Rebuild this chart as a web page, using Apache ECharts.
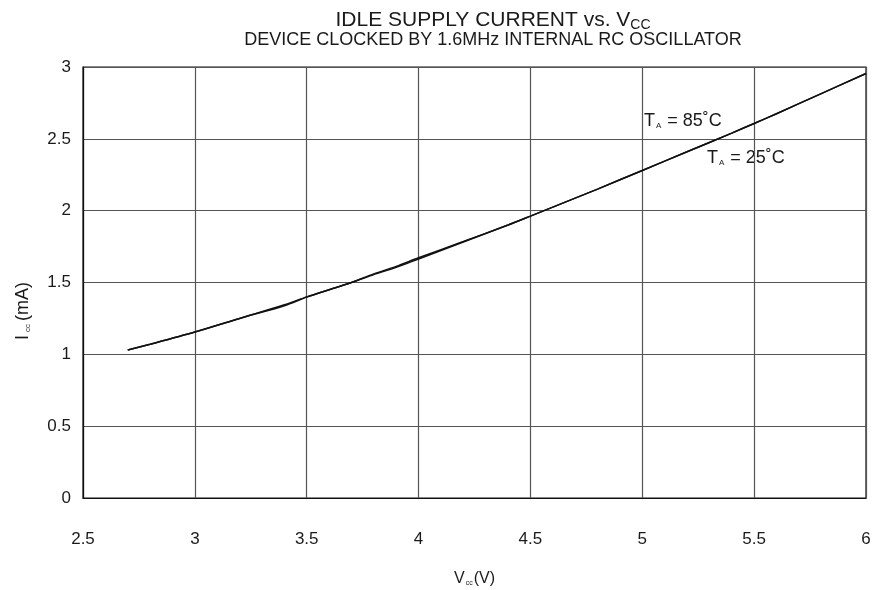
<!DOCTYPE html>
<html>
<head>
<meta charset="utf-8">
<script src="https://cdn.jsdelivr.net/npm/echarts@6/dist/echarts.min.js"></script>
<style>
  html, body { margin: 0; padding: 0; background: #fff; }
  #chart { width: 883px; height: 590px; }
</style>
</head>
<body>
<div id="chart"></div>
<script>
// Supply voltage (V)
const vcc = [2.7, 2.8, 3.0, 3.2, 3.4, 3.5, 3.6, 3.7, 3.8, 3.9, 4.0, 4.2, 4.4, 4.5, 4.6, 4.8, 5.0, 5.2, 5.4, 5.5, 5.6, 5.8, 6.0];
// Idle supply current (mA) at TA = 85°C
const icc85 = [1.03, 1.07, 1.155, 1.25, 1.345, 1.40, 1.45, 1.50, 1.56, 1.612, 1.672, 1.785, 1.90, 1.962, 2.025, 2.15, 2.28, 2.41, 2.54, 2.607, 2.675, 2.815, 2.955];
// Idle supply current (mA) at TA = 25°C
const icc25 = [1.03, 1.07, 1.155, 1.25, 1.338, 1.398, 1.45, 1.50, 1.555, 1.605, 1.664, 1.782, 1.90, 1.962, 2.025, 2.15, 2.28, 2.41, 2.54, 2.607, 2.675, 2.815, 2.955];
const xTicks = [2.5, 3, 3.5, 4, 4.5, 5, 5.5, 6];
const yTicks = [0, 0.5, 1, 1.5, 2, 2.5, 3];

const font = '"Liberation Sans", Arial, Helvetica, sans-serif';
const ink = '#1a1a1a';
const chart = echarts.init(document.getElementById('chart'));

const lineSeries = (name, vals) => ({
  name,
  type: 'line',
  data: vcc.map((v, i) => [v, vals[i]]),
  showSymbol: false,
  smooth: 0.3,
  lineStyle: { color: '#111', width: 1.5 },
  animation: false
});

// text with a small subscript, e.g. T_A, I_cc
const subRich = (size, gap) => ({
  a: { fontFamily: font, fontSize: size, fill: ink, color: ink },
  s: { fontFamily: font, fontSize: Math.round(size * 0.45), fill: ink, color: ink, padding: [Math.round(size * 0.55), gap, 0, gap] }
});

chart.setOption({
  backgroundColor: '#fff',
  animation: false,
  textStyle: { fontFamily: font },
  title: {
    left: 488,
    top: 3,
    textAlign: 'center',
    text: '{a|IDLE SUPPLY CURRENT vs. V}{s|CC}',
    subtext: 'DEVICE CLOCKED BY 1.6MHz INTERNAL RC OSCILLATOR',
    itemGap: 1,
    textStyle: {
      fontWeight: 'normal',
      rich: {
        a: { fontFamily: font, fontSize: 21, color: ink, fontWeight: 'normal' },
        s: { fontFamily: font, fontSize: 14, color: ink, fontWeight: 'normal', padding: [10, 0, 0, 0] }
      }
    },
    subtextStyle: { fontFamily: font, fontSize: 18, color: ink }
  },
  grid: {
    left: 83, right: 17, top: 67, bottom: 92,
    outerBoundsMode: 'none',
    containLabel: false,
    show: true, borderColor: '#111', borderWidth: 1.2
  },
  xAxis: {
    type: 'value',
    min: 2.5,
    max: 6,
    interval: 0.5,
    name: '{a|V}{s|cc}{a|(V)}',
    nameLocation: 'middle',
    nameGap: 73,
    nameTextStyle: { rich: subRich(16, 1) },
    axisLine: { lineStyle: { color: '#111', width: 1.2 } },
    axisTick: { show: false },
    axisLabel: { margin: 33, fontSize: 17, color: ink, formatter: v => xTicks.includes(v) ? String(v) : '' },
    splitLine: { lineStyle: { color: '#555', width: 1.2 } }
  },
  yAxis: {
    type: 'value',
    min: 0,
    max: 3,
    interval: 0.5,
    axisLine: { show: true, lineStyle: { color: '#111', width: 1.2 } },
    axisTick: { show: false },
    axisLabel: { margin: 12, fontSize: 17, color: ink, formatter: v => yTicks.includes(v) ? String(v) : '' },
    splitLine: { lineStyle: { color: '#555', width: 1.2 } }
  },
  series: [
    lineSeries('TA = 85°C', icc85),
    lineSeries('TA = 25°C', icc25)
  ],
  graphic: [
    {
      type: 'text',
      x: 14,
      y: 340,
      rotation: Math.PI / 2,
      style: { text: '{a|I}{s|cc}{a|(mA)}', rich: subRich(18, 3) }
    },
    {
      type: 'text',
      left: 644,
      top: 112,
      style: { text: '{a|T}{s|A}{a| = 85˚C}', rich: subRich(18, 1) }
    },
    {
      type: 'text',
      left: 707,
      top: 149,
      style: { text: '{a|T}{s|A}{a| = 25˚C}', rich: subRich(18, 1) }
    }
  ]
});
</script>
</body>
</html>
